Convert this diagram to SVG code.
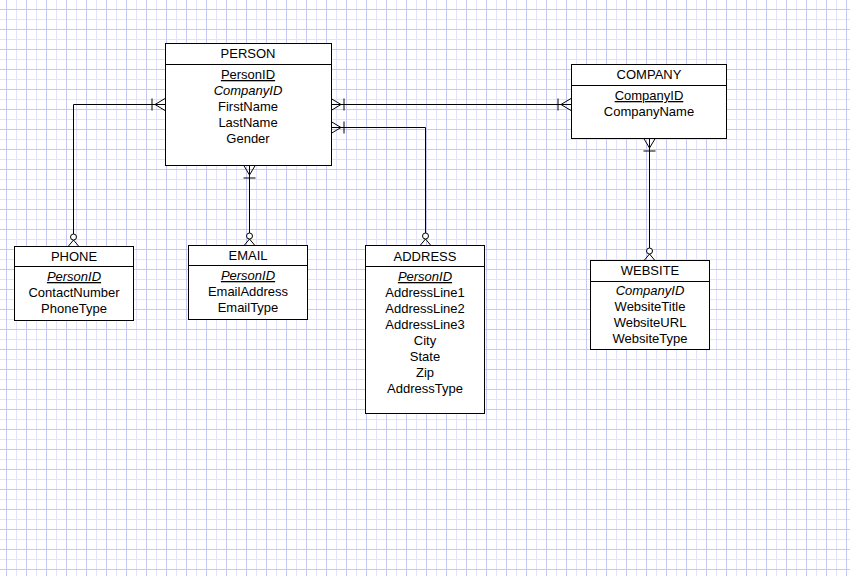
<svg xmlns="http://www.w3.org/2000/svg" width="850" height="576" viewBox="0 0 850 576">
<defs>
<pattern id="g" x="6" y="9" width="20" height="20" patternUnits="userSpaceOnUse">
<path d="M10.5 0V20M0 10.5H20" stroke="#e2e2fc" stroke-width="1"/>
<path d="M0.5 0V20M0 0.5H20" stroke="#c8c8f8" stroke-width="1"/>
</pattern>
<g id="crowL"><path d="M-10 0L0 -6M-10 0L0 6M-13 -6V6" fill="none" stroke="#000"/></g>
<g id="zm"><circle cx="0" cy="-9" r="3" fill="#fff" stroke="#000"/><path d="M0 -6L-5 0M0 -6L5 0" fill="none" stroke="#000"/></g>
</defs>
<style>
.b{fill:#fff;stroke:#000;stroke-width:1}
.t{font-family:"Liberation Sans",Arial,sans-serif;font-size:13px;text-anchor:middle;fill:#000}
.k{text-decoration:underline}
.i{font-style:italic}
.c{fill:none;stroke:#000;stroke-width:1}
</style>
<rect width="850" height="576" fill="#fff"/>
<rect width="850" height="576" fill="url(#g)"/>
<g id="connectors">
<path class="c" d="M73.5 237V104.5H165"/>
<path class="c" d="M249.5 165V236"/>
<path class="c" d="M331 127.5H425.5V236"/>
<path class="c" d="M331 104.5H571"/>
<path class="c" d="M649.5 138V251"/>
<use href="#crowL" transform="translate(165,104.5)"/>
<use href="#crowL" transform="translate(331,104.5) scale(-1,1)"/>
<use href="#crowL" transform="translate(571,104.5)"/>
<use href="#crowL" transform="translate(331,127.5) scale(-1,1)"/>
<use href="#crowL" transform="translate(249.5,165) rotate(-90)"/>
<use href="#crowL" transform="translate(649.5,138) rotate(-90)"/>
<use href="#zm" transform="translate(73.5,246)"/>
<use href="#zm" transform="translate(249.5,245)"/>
<use href="#zm" transform="translate(425.5,245)"/>
<use href="#zm" transform="translate(649.5,260)"/>
</g>
<g id="person">
<rect class="b" x="165.5" y="43.5" width="166" height="122"/>
<path class="c" d="M165 64.5H331"/>
<text class="t" x="248" y="58">PERSON</text>
<text class="t k" x="248" y="79">PersonID</text>
<text class="t i" x="248" y="95">CompanyID</text>
<text class="t" x="248" y="111">FirstName</text>
<text class="t" x="248" y="127">LastName</text>
<text class="t" x="248" y="143">Gender</text>
</g>
<g id="company">
<rect class="b" x="571.5" y="64.5" width="155" height="74"/>
<path class="c" d="M571 85.5H726"/>
<text class="t" x="649" y="79">COMPANY</text>
<text class="t k" x="649" y="100">CompanyID</text>
<text class="t" x="649" y="116">CompanyName</text>
</g>
<g id="phone">
<rect class="b" x="14.5" y="246.5" width="119" height="74"/>
<path class="c" d="M14 266.5H133"/>
<text class="t" x="74" y="261">PHONE</text>
<text class="t k i" x="74" y="281">PersonID</text>
<text class="t" x="74" y="297">ContactNumber</text>
<text class="t" x="74" y="313">PhoneType</text>
</g>
<g id="email">
<rect class="b" x="188.5" y="245.5" width="119" height="74"/>
<path class="c" d="M188 265.5H307"/>
<text class="t" x="248" y="260">EMAIL</text>
<text class="t k i" x="248" y="280">PersonID</text>
<text class="t" x="248" y="296">EmailAddress</text>
<text class="t" x="248" y="312">EmailType</text>
</g>
<g id="address">
<rect class="b" x="365.5" y="245.5" width="119" height="168"/>
<path class="c" d="M365 266.5H484"/>
<text class="t" x="425" y="261">ADDRESS</text>
<text class="t k i" x="425" y="281">PersonID</text>
<text class="t" x="425" y="297">AddressLine1</text>
<text class="t" x="425" y="313">AddressLine2</text>
<text class="t" x="425" y="329">AddressLine3</text>
<text class="t" x="425" y="345">City</text>
<text class="t" x="425" y="361">State</text>
<text class="t" x="425" y="377">Zip</text>
<text class="t" x="425" y="393">AddressType</text>
</g>
<g id="website">
<rect class="b" x="590.5" y="260.5" width="119" height="89"/>
<path class="c" d="M590 281.5H709"/>
<text class="t" x="650" y="275">WEBSITE</text>
<text class="t i" x="650" y="295">CompanyID</text>
<text class="t" x="650" y="311">WebsiteTitle</text>
<text class="t" x="650" y="327">WebsiteURL</text>
<text class="t" x="650" y="343">WebsiteType</text>
</g>
</svg>
